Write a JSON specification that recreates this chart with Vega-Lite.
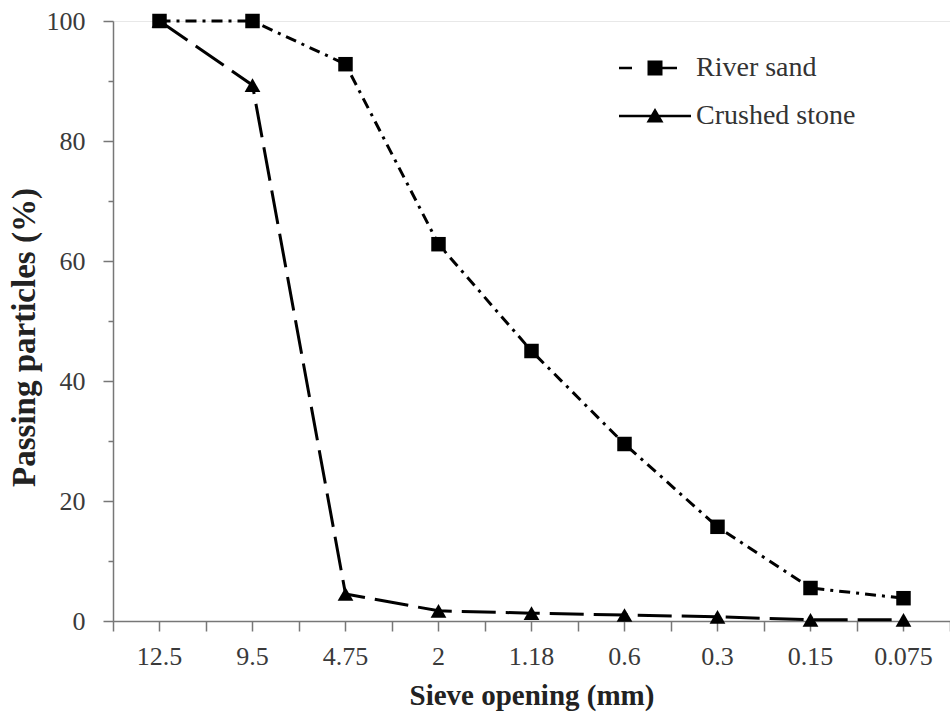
{
  "$schema": "https://vega.github.io/schema/vega-lite/v6.json",
  "autosize": {"type": "none"},
  "padding": {"left": 113, "top": 21, "right": 0, "bottom": 98},
  "width": 837,
  "height": 600,
  "background": "white",
  "config": {
    "view": {"stroke": null},
    "font": "Liberation Serif",
    "axis": {
      "domainColor": "#777777",
      "domainWidth": 1.5,
      "tickColor": "#777777",
      "tickWidth": 1.5,
      "labelColor": "#3a3a3a",
      "labelFont": "Liberation Serif",
      "labelFontSize": 26,
      "titleFont": "Liberation Serif",
      "titleFontWeight": "bold",
      "titleColor": "#222222"
    },
    "legend": {
      "labelFont": "Liberation Serif",
      "labelFontSize": 28,
      "labelColor": "#333333",
      "padding": 0
    }
  },
  "data": {
    "values": [
      {"sieve": "12.5", "series": "River sand", "passing": 100},
      {"sieve": "9.5", "series": "River sand", "passing": 100},
      {"sieve": "4.75", "series": "River sand", "passing": 92.8},
      {"sieve": "2", "series": "River sand", "passing": 62.8},
      {"sieve": "1.18", "series": "River sand", "passing": 45},
      {"sieve": "0.6", "series": "River sand", "passing": 29.5},
      {"sieve": "0.3", "series": "River sand", "passing": 15.7},
      {"sieve": "0.15", "series": "River sand", "passing": 5.5},
      {"sieve": "0.075", "series": "River sand", "passing": 3.8},
      {"sieve": "12.5", "series": "Crushed stone", "passing": 100},
      {"sieve": "9.5", "series": "Crushed stone", "passing": 89.3},
      {"sieve": "4.75", "series": "Crushed stone", "passing": 4.5},
      {"sieve": "2", "series": "Crushed stone", "passing": 1.7},
      {"sieve": "1.18", "series": "Crushed stone", "passing": 1.3},
      {"sieve": "0.6", "series": "Crushed stone", "passing": 1.0},
      {"sieve": "0.3", "series": "Crushed stone", "passing": 0.7},
      {"sieve": "0.15", "series": "Crushed stone", "passing": 0.2},
      {"sieve": "0.075", "series": "Crushed stone", "passing": 0.2}
    ]
  },
  "resolve": {"scale": {"x": "independent", "y": "independent", "shape": "independent"}},
  "layer": [
    {
      "mark": {"type": "line", "color": "black", "strokeWidth": 3},
      "encoding": {
        "x": {
          "field": "sieve", "type": "ordinal",
          "sort": ["12.5", "9.5", "4.75", "2", "1.18", "0.6", "0.3", "0.15", "0.075"],
          "scale": {"type": "band", "paddingInner": 0, "paddingOuter": 0},
          "axis": {
            "orient": "bottom", "title": "Sieve opening (mm)", "tickBand": "center",
            "tickSize": 10, "labelAngle": 0, "labelPadding": 12, "titlePadding": 12,
            "titleFontSize": 29, "domain": true
          }
        },
        "y": {
          "field": "passing", "type": "quantitative",
          "scale": {"domain": [0, 100], "nice": false},
          "axis": {
            "orient": "left", "title": "Passing particles (%)",
            "values": [0, 20, 40, 60, 80, 100],
            "tickSize": 10, "labelPadding": 18, "titlePadding": 5, "titleFontSize": 33,
            "titleY": 316,
            "grid": true, "gridColor": "#e8e8e8",
            "gridOpacity": {"condition": {"test": "datum.value === 100", "value": 1}, "value": 0}
          }
        },
        "strokeDash": {
          "field": "series", "type": "nominal",
          "scale": {"domain": ["Crushed stone", "River sand"], "range": [[34, 10], [11, 6, 3, 6]]},
          "legend": null
        },
        "detail": {"field": "series"}
      }
    },
    {
      "mark": {"type": "point", "filled": true, "color": "black", "opacity": 1},
      "encoding": {
        "x": {
          "field": "sieve", "type": "ordinal",
          "sort": ["12.5", "9.5", "4.75", "2", "1.18", "0.6", "0.3", "0.15", "0.075"],
          "scale": {"type": "band", "paddingInner": 0, "paddingOuter": 0},
          "axis": {
            "orient": "bottom", "title": null, "labels": false, "tickBand": "extent",
            "tickSize": 10, "domain": false
          }
        },
        "y": {
          "field": "passing", "type": "quantitative",
          "scale": {"domain": [0, 100], "nice": false},
          "axis": {
            "orient": "left", "title": null, "labels": false, "domain": false,
            "values": [10, 30, 50, 70, 90], "tickSize": 5, "grid": false
          }
        },
        "size": {
          "field": "series", "type": "nominal",
          "scale": {"domain": ["Crushed stone", "River sand"], "range": [250, 210]},
          "legend": null
        },
        "shape": {
          "field": "series", "type": "nominal",
          "scale": {"domain": ["Crushed stone", "River sand"], "range": ["triangle-up", "square"]},
          "legend": null
        }
      }
    },
    {
      "transform": [{"filter": "datum.passing < 0"}],
      "mark": {"type": "point", "filled": true, "color": "black", "opacity": 1},
      "encoding": {
        "shape": {
          "field": "series", "type": "nominal",
          "scale": {
            "domain": ["River sand", "Crushed stone"],
            "range": [
              "M-3.6,-0.12H-2.3V0.12H-3.6ZM0.75,-0.12H2.2V0.12H0.75ZM-0.75,-0.75H0.75V0.75H-0.75Z",
              "M-3.6,-0.12H3.6V0.12H-3.6ZM0,-0.8L0.85,0.65H-0.85Z"
            ]
          },
          "legend": {
            "title": null,
            "orient": "none",
            "legendX": 528,
            "legendY": 33,
            "labelFont": "Liberation Serif",
            "labelFontSize": 28,
            "labelColor": "#333333",
            "labelOffset": 27,
            "rowPadding": 20,
            "symbolSize": 400,
            "symbolFillColor": "black",
            "symbolOpacity": 1
          }
        }
      }
    }
  ]
}
